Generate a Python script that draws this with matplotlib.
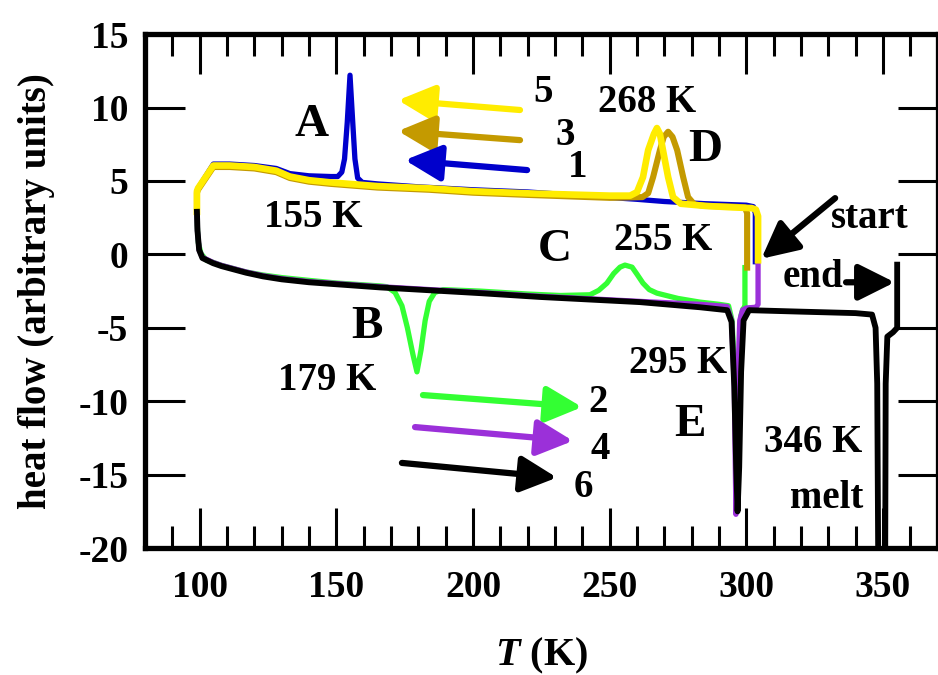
import numpy as np
import matplotlib.pyplot as plt
from matplotlib.ticker import MultipleLocator

plt.rcParams['font.family'] = 'Liberation Serif'
plt.rcParams['font.weight'] = 'bold'
plt.rcParams['mathtext.fontset'] = 'custom'
plt.rcParams['mathtext.it'] = 'Liberation Serif:italic:bold'
plt.rcParams['mathtext.rm'] = 'Liberation Serif:bold'
plt.rcParams['axes.unicode_minus'] = False

# run 1 - cooling (blue)
t1 = [303.3, 303.3, 302.6, 300, 285, 270, 260, 240, 220, 200, 180, 165, 159.5, 157.8,
      156.8, 156, 155, 154, 153, 152, 150.5, 148, 140, 133, 128, 120, 111, 105, 99.4, 99.0, 99.0]
q1 = [-0.5, 2.8, 3.25, 3.35, 3.45, 3.6, 3.75, 4.0, 4.25, 4.4, 4.6, 4.8, 4.9, 5.2,
      6.5, 9.0, 12.2, 9.0, 6.5, 5.6, 5.3, 5.3, 5.35, 5.5, 5.85, 6.05, 6.15, 6.15, 4.5, 4.3, 2.9]

# run 2 - heating (green)
t2 = [99.0, 99.1, 99.5, 100.5, 102.5, 105, 108, 112, 117, 123, 130, 140, 150, 166, 168.5, 171.5, 174,
      176, 178, 179.5, 181, 182.5, 184, 186, 189, 202.6, 220, 232, 242.8, 246, 249, 251.5,
      253.8, 255.6, 258.2, 260, 262.2, 264.5, 267.3, 275, 283, 290, 293.5, 294.8, 295.6,
      296.4, 297.2, 298, 298.8, 299.5, 299.5]
q2 = [2.9, 2.0, 0.8, 0.05, -0.4, -0.55, -0.75, -0.95, -1.2, -1.4, -1.58, -1.77, -1.95, -2.15, -2.2, -2.6, -3.5,
      -5.0, -6.8, -8.0, -6.5, -4.5, -3.2, -2.6, -2.4, -2.5, -2.7, -2.8, -2.75, -2.45, -1.96, -1.3,
      -0.87, -0.73, -0.87, -1.35, -1.96, -2.4, -2.64, -3.0, -3.25, -3.4, -3.5, -4.5, -8.0,
      -13.3, -8.0, -4.2, -3.7, -3.6, -0.9]

# run 3 - cooling (gold)
t3 = [300.3, 300.3, 299.5, 295, 285, 281, 278.7, 276.9, 274.7, 273, 271.4, 269.8, 268.4,
      265.9, 264.1, 262, 250, 220, 200, 184, 165, 148, 140, 133, 128, 120, 111, 105, 99.4, 99.0, 99.0]
q3 = [-0.9, 2.8, 3.2, 3.25, 3.3, 3.4, 3.9, 5.26, 7.1, 8.0, 8.35, 8.0, 7.1,
      5.26, 4.17, 3.9, 3.85, 4.05, 4.2, 4.4, 4.55, 4.8, 4.95, 5.2, 5.6, 5.85, 5.95, 5.95, 4.4, 4.2, 2.9]

# run 4 - heating (purple)
t4 = [99.0, 99.2, 99.8, 101, 104.9, 108, 112, 117, 123.2, 130, 140, 166, 202.6, 224.5, 261, 283, 293,
      294.6, 295.6, 296.2, 296.8, 297.6, 298.6, 300, 303.5, 304.3, 304.3]
q4 = [2.9, 1.6, 0.3, -0.2, -0.55, -0.75, -0.95, -1.2, -1.45, -1.65, -1.85, -2.2, -2.6, -2.85, -3.2, -3.4, -3.55,
      -4.5, -9.0, -17.7, -9.0, -4.5, -3.8, -3.65, -3.6, -3.4, -0.4]

# run 5 - cooling (yellow)
t5 = [304.3, 304.3, 303.5, 302, 295, 285, 276, 273.2, 271.4, 269.5, 268.4, 267.3, 266.2,
      264.1, 262.2, 260, 257.5, 250, 221, 200, 184, 165, 148, 140, 133, 128, 120, 111, 105,
      99.4, 99.0, 99.0]
q5 = [-0.4, 2.6, 3.05, 3.15, 3.2, 3.3, 3.45, 3.9, 5.26, 7.1, 8.2, 8.6, 8.2,
      7.1, 5.26, 4.24, 4.0, 4.0, 4.15, 4.3, 4.5, 4.65, 4.9, 5.05, 5.3, 5.7, 5.95, 6.05, 6.05,
      4.5, 4.3, 2.9]

# run 6 - heating to melt (black)
t6 = [99.0, 99.2, 99.8, 101, 104.9, 108, 112, 117, 123.2, 130, 140, 166, 202.6, 224.5, 261, 283, 293,
      294.6, 295.6, 296.3, 296.8, 297.4, 298.1, 299, 301, 320, 340, 346, 347.3, 347.9,
      348.3, 350.8, 351.0, 351.6, 353.7, 355.2, 355.2]
q6 = [2.9, 1.6, 0.3, -0.25, -0.6, -0.8, -1.0, -1.25, -1.5, -1.7, -1.9, -2.25, -2.64, -2.9, -3.25, -3.6, -3.8,
      -4.6, -9.0, -14.5, -17.5, -14.5, -8.0, -4.5, -3.8, -3.9, -4.0, -4.1, -5.0, -8.8,
      -22, -22, -8.8, -5.6, -5.3, -5.0, -0.7]

blue = '#0000cc'
green = '#33ff33'
gold = '#c49a00'
purple = '#9b30d9'
yellow = '#ffec00'

fig = plt.figure(figsize=(9.38, 6.75), dpi=100)
ax = fig.add_axes([0.1546, 0.188, 0.845, 0.7615])

ax.plot(t1, q1, color=blue, lw=3.8, zorder=2, solid_joinstyle='round')
ax.plot(t2, q2, color=green, lw=3.8, zorder=2, solid_joinstyle='round')
ax.plot(t3, q3, color=gold, lw=4.4, zorder=3, solid_joinstyle='round')
ax.plot(t4, q4, color=purple, lw=3.8, zorder=3, solid_joinstyle='round')
ax.plot(t5, q5, color=yellow, lw=4.8, zorder=4, solid_joinstyle='round')
ax.plot(t6, q6, color='black', lw=4.2, zorder=4, solid_joinstyle='round')

ax.set_xlim(80, 370)
ax.set_ylim(-20, 15)
ax.xaxis.set_major_locator(MultipleLocator(50))
ax.xaxis.set_minor_locator(MultipleLocator(10))
ax.yaxis.set_major_locator(MultipleLocator(5))
ax.tick_params(which='both', direction='in', top=True, right=True, width=2.2, labelsize=27)
ax.tick_params(which='major', length=29)
ax.tick_params(which='minor', length=16)
ax.tick_params(axis='y', pad=12)
ax.tick_params(axis='x', pad=16)
for s in ax.spines.values():
    s.set_linewidth(3.8)

ax.set_xlabel(r'$\mathit{T}$ (K)', fontsize=29, fontweight='bold', labelpad=22)
ax.set_ylabel('heat flow (arbitrary units)', fontsize=28, fontweight='bold', labelpad=17)

# direction arrows with run numbers
arrows = [((217.2, 9.83), (172.6, 10.5), yellow, '5', (225.6, 11.05)),
          ((217.2, 7.78), (172.6, 8.4), gold, '3', (233.7, 8.1)),
          ((219.8, 5.74), (175.1, 6.42), blue, '1', (238.4, 5.9)),
          ((181.7, -9.58), (239.9, -10.4), green, '2', (245.7, -10.06)),
          ((178.8, -11.76), (236.6, -12.7), purple, '4', (246.5, -13.3)),
          ((174.0, -14.2), (230.7, -15.2), 'black', '6', (240.3, -15.9))]
for tail, tip, c, lab, pos in arrows:
    ax.annotate('', xy=tip, xytext=tail,
                arrowprops=dict(arrowstyle='-|>', color=c, lw=4.5, mutation_scale=55,
                                shrinkA=0, shrinkB=0))
    ax.text(pos[0], pos[1], lab, fontsize=28, ha='center', va='center')

ax.annotate('', xy=(305.5, -0.3), xytext=(332.5, 3.83),
            arrowprops=dict(arrowstyle='-|>', color='black', lw=4.5, mutation_scale=55,
                            shrinkA=0, shrinkB=0))
ax.annotate('', xy=(354.3, -1.9), xytext=(336.5, -1.9),
            arrowprops=dict(arrowstyle='-|>', color='black', lw=4.5, mutation_scale=55,
                            shrinkA=0, shrinkB=0))

big = 34
small = 28
ax.text(141.0, 8.8, 'A', fontsize=big, ha='center', va='center')
ax.text(141.5, 2.54, '155 K', fontsize=small, ha='center', va='center')
ax.text(161.2, -4.95, 'B', fontsize=big, ha='center', va='center')
ax.text(146.6, -8.56, '179 K', fontsize=small, ha='center', va='center')
ax.text(230.0, 0.29, 'C', fontsize=big, ha='center', va='center')
ax.text(269.5, 0.97, '255 K', fontsize=small, ha='center', va='center')
ax.text(263.7, 10.37, '268 K', fontsize=small, ha='center', va='center')
ax.text(284.9, 7.1, 'D', fontsize=big, ha='center', va='center')
ax.text(279.4, -11.6, 'E', fontsize=big, ha='center', va='center')
ax.text(275.0, -7.4, '295 K', fontsize=small, ha='center', va='center')
ax.text(324.4, -12.8, '346 K', fontsize=small, ha='center', va='center')
ax.text(329.5, -16.6, 'melt', fontsize=small, ha='center', va='center')
ax.text(345.3, 2.47, 'start', fontsize=small, ha='center', va='center')
ax.text(324.4, -1.6, 'end', fontsize=small, ha='center', va='center')

fig.savefig('out.png', dpi=100)
